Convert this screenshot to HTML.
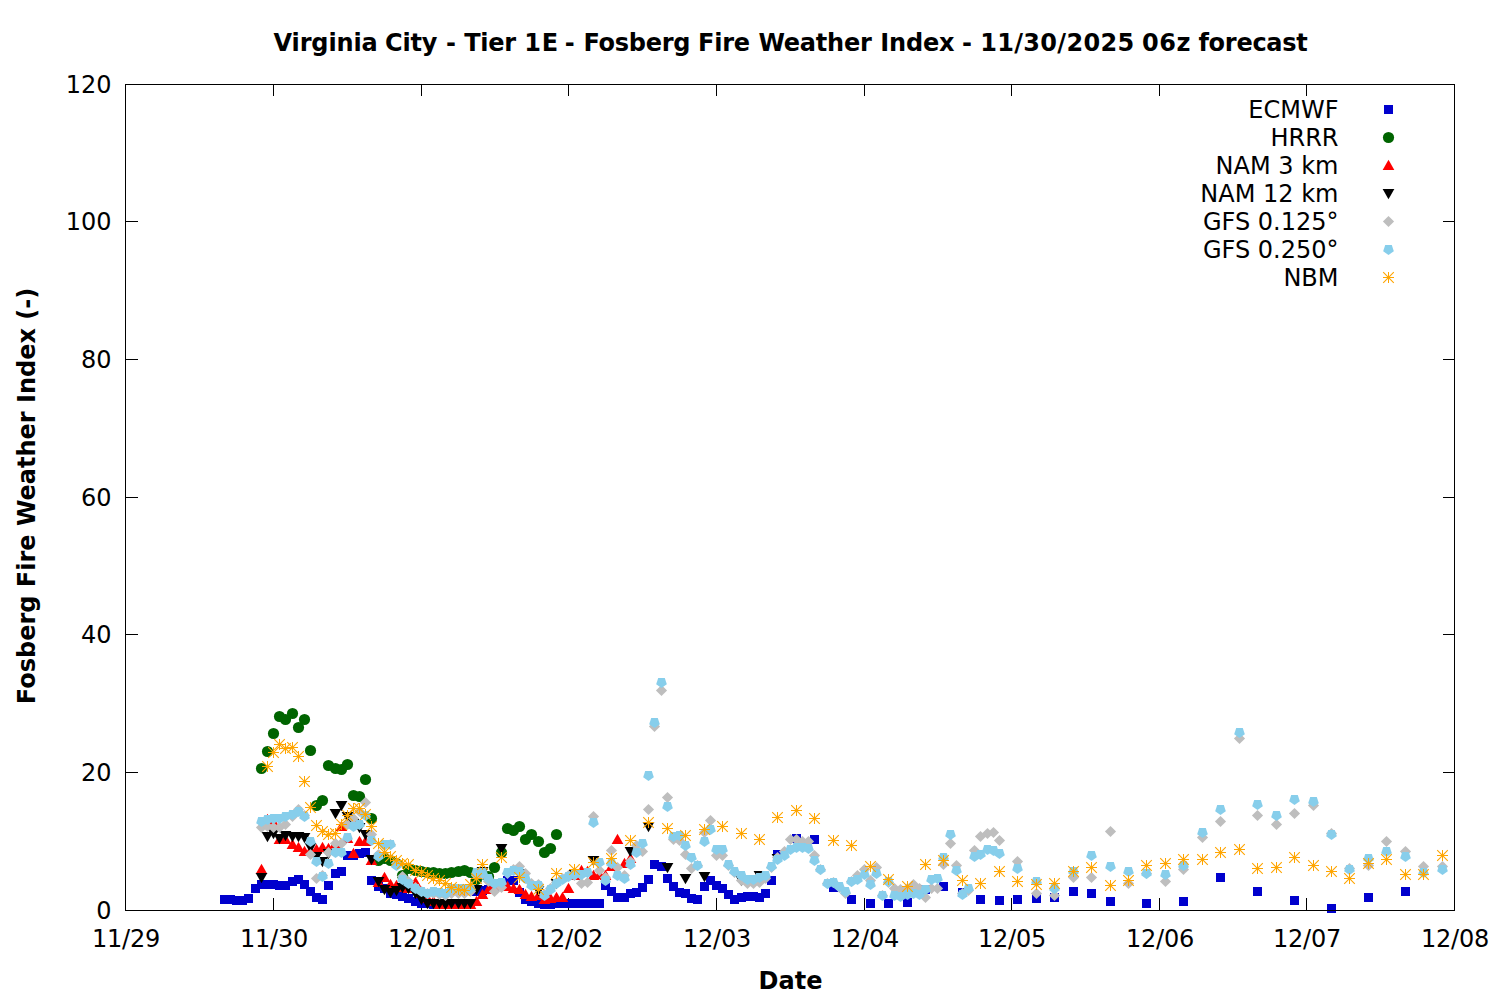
<!DOCTYPE html>
<html lang="en">
<head>
<meta charset="utf-8">
<title>Virginia City - Tier 1E - Fosberg Fire Weather Index</title>
<style>
html,body{margin:0;padding:0;background:#fff;}
body{width:1500px;height:1000px;overflow:hidden;}
svg{display:block;}
text{font-family:"DejaVu Sans","Liberation Sans",sans-serif;font-size:24px;fill:#000;}
.b{font-weight:bold;}
.ax{fill:#000;shape-rendering:crispEdges;}
</style>
</head>
<body>
<svg width="1500" height="1000" viewBox="0 0 1500 1000">
<defs>
<rect id="m-ec" x="-4.5" y="-4.5" width="9" height="9" stroke="none"/>
<circle id="m-hr" r="5.6" stroke="none"/>
<path id="m-n3" d="M0 -5.8L5.85 4.5H-5.85Z" stroke="none"/>
<path id="m-n12" d="M0 5.8L5.85 -4.5H-5.85Z" stroke="none"/>
<path id="m-g1" d="M0 -5.6L5.6 0L0 5.6L-5.6 0Z" stroke="none"/>
<path id="m-g2" d="M0 5.6L5.33 1.73L3.29 -4.53H-3.29L-5.33 1.73Z" stroke="none"/>
<g id="m-nb" fill="none"><path d="M-5.5 0H5.5M0 -5.5V5.5" stroke-width="1"/><path d="M-5.3 -5.3L5.3 5.3M-5.3 5.3L5.3 -5.3" stroke-width="1.1"/></g>
</defs>
<rect x="0" y="0" width="1500" height="1000" fill="#fff"/>
<text class="b" y="51"><tspan x="273.6" textLength="104.1" lengthAdjust="spacing">Virginia</tspan> <tspan x="385.1" textLength="52.2" lengthAdjust="spacing">City</tspan> <tspan x="445.9" textLength="10.3" lengthAdjust="spacing">-</tspan> <tspan x="464.2" textLength="51.8" lengthAdjust="spacing">Tier</tspan> <tspan x="524.2" textLength="33.9" lengthAdjust="spacing">1E</tspan> <tspan x="564.8" textLength="10.4" lengthAdjust="spacing">-</tspan> <tspan x="583.4" textLength="107.1" lengthAdjust="spacing">Fosberg</tspan> <tspan x="698.1" textLength="51.9" lengthAdjust="spacing">Fire</tspan> <tspan x="758.4" textLength="113.5" lengthAdjust="spacing">Weather</tspan> <tspan x="880.3" textLength="74.2" lengthAdjust="spacing">Index</tspan> <tspan x="961.9" textLength="10.4" lengthAdjust="spacing">-</tspan> <tspan x="980.2" textLength="154.0" lengthAdjust="spacing">11/30/2025</tspan> <tspan x="1142.0" textLength="48.5" lengthAdjust="spacing">06z</tspan> <tspan x="1198.4" textLength="109.4" lengthAdjust="spacing">forecast</tspan></text>
<text class="b" x="790.5" y="989" text-anchor="middle">Date</text>
<text class="b" transform="translate(35,496) rotate(-90)" text-anchor="middle">Fosberg Fire Weather Index (-)</text>
<text x="111.5" y="919" text-anchor="end">0</text>
<text x="111.5" y="781" text-anchor="end">20</text>
<text x="111.5" y="643" text-anchor="end">40</text>
<text x="111.5" y="506" text-anchor="end">60</text>
<text x="111.5" y="368" text-anchor="end">80</text>
<text x="111.5" y="230" text-anchor="end">100</text>
<text x="111.5" y="93" text-anchor="end">120</text>
<text x="126.0" y="947" text-anchor="middle" letter-spacing="-0.2">11/29</text>
<text x="274.0" y="947" text-anchor="middle" letter-spacing="-0.2">11/30</text>
<text x="422.0" y="947" text-anchor="middle" letter-spacing="-0.2">12/01</text>
<text x="569.0" y="947" text-anchor="middle" letter-spacing="-0.2">12/02</text>
<text x="717.0" y="947" text-anchor="middle" letter-spacing="-0.2">12/03</text>
<text x="865.0" y="947" text-anchor="middle" letter-spacing="-0.2">12/04</text>
<text x="1012.0" y="947" text-anchor="middle" letter-spacing="-0.2">12/05</text>
<text x="1160.0" y="947" text-anchor="middle" letter-spacing="-0.2">12/06</text>
<text x="1307.0" y="947" text-anchor="middle" letter-spacing="-0.2">12/07</text>
<text x="1455.0" y="947" text-anchor="middle" letter-spacing="-0.2">12/08</text>
<g class="ax"><rect x="126" y="772" width="12" height="1"/><rect x="1443" y="772" width="11" height="1"/><rect x="126" y="634" width="12" height="1"/><rect x="1443" y="634" width="11" height="1"/><rect x="126" y="497" width="12" height="1"/><rect x="1443" y="497" width="11" height="1"/><rect x="126" y="359" width="12" height="1"/><rect x="1443" y="359" width="11" height="1"/><rect x="126" y="221" width="12" height="1"/><rect x="1443" y="221" width="11" height="1"/><rect x="273" y="898" width="1" height="12"/><rect x="273" y="85" width="1" height="11"/><rect x="421" y="898" width="1" height="12"/><rect x="421" y="85" width="1" height="11"/><rect x="568" y="898" width="1" height="12"/><rect x="568" y="85" width="1" height="11"/><rect x="716" y="898" width="1" height="12"/><rect x="716" y="85" width="1" height="11"/><rect x="864" y="898" width="1" height="12"/><rect x="864" y="85" width="1" height="11"/><rect x="1011" y="898" width="1" height="12"/><rect x="1011" y="85" width="1" height="11"/><rect x="1159" y="898" width="1" height="12"/><rect x="1159" y="85" width="1" height="11"/><rect x="1306" y="898" width="1" height="12"/><rect x="1306" y="85" width="1" height="11"/></g>
<g fill="#0000cd" stroke="#0000cd">
<use href="#m-ec" x="224.5" y="899.5"/><use href="#m-ec" x="230.5" y="899.5"/><use href="#m-ec" x="236.5" y="900.5"/><use href="#m-ec" x="242.5" y="900.5"/><use href="#m-ec" x="248.5" y="898.5"/><use href="#m-ec" x="255.5" y="888.5"/><use href="#m-ec" x="261.5" y="884.5"/><use href="#m-ec" x="267.5" y="884.5"/><use href="#m-ec" x="273.5" y="884.5"/><use href="#m-ec" x="279.5" y="885.5"/><use href="#m-ec" x="285.5" y="885.5"/><use href="#m-ec" x="292.5" y="881.5"/><use href="#m-ec" x="298.5" y="879.5"/><use href="#m-ec" x="304.5" y="884.5"/><use href="#m-ec" x="310.5" y="891.5"/><use href="#m-ec" x="316.5" y="897.5"/><use href="#m-ec" x="322.5" y="899.5"/><use href="#m-ec" x="328.5" y="885.5"/><use href="#m-ec" x="335.5" y="873.5"/><use href="#m-ec" x="341.5" y="871.5"/><use href="#m-ec" x="347.5" y="855.5"/><use href="#m-ec" x="353.5" y="855.5"/><use href="#m-ec" x="359.5" y="853.5"/><use href="#m-ec" x="365.5" y="852.5"/><use href="#m-ec" x="371.5" y="880.5"/><use href="#m-ec" x="378.5" y="886.5"/><use href="#m-ec" x="384.5" y="888.5"/><use href="#m-ec" x="390.5" y="893.5"/><use href="#m-ec" x="396.5" y="894.5"/><use href="#m-ec" x="402.5" y="896.5"/><use href="#m-ec" x="408.5" y="898.5"/><use href="#m-ec" x="415.5" y="901.5"/><use href="#m-ec" x="421.5" y="903.5"/><use href="#m-ec" x="427.5" y="903.5"/><use href="#m-ec" x="433.5" y="904.5"/><use href="#m-ec" x="439.5" y="904.5"/><use href="#m-ec" x="445.5" y="904.5"/><use href="#m-ec" x="451.5" y="904.5"/><use href="#m-ec" x="458.5" y="904.5"/><use href="#m-ec" x="464.5" y="904.5"/><use href="#m-ec" x="470.5" y="904.5"/><use href="#m-ec" x="476.5" y="891.5"/><use href="#m-ec" x="482.5" y="890.5"/><use href="#m-ec" x="488.5" y="889.5"/><use href="#m-ec" x="494.5" y="886.5"/><use href="#m-ec" x="501.5" y="883.5"/><use href="#m-ec" x="507.5" y="880.5"/><use href="#m-ec" x="513.5" y="880.5"/><use href="#m-ec" x="519.5" y="892.5"/><use href="#m-ec" x="525.5" y="899.5"/><use href="#m-ec" x="531.5" y="901.5"/><use href="#m-ec" x="538.5" y="903.5"/><use href="#m-ec" x="544.5" y="904.5"/><use href="#m-ec" x="550.5" y="904.5"/><use href="#m-ec" x="556.5" y="903.5"/><use href="#m-ec" x="562.5" y="903.5"/><use href="#m-ec" x="568.5" y="903.5"/><use href="#m-ec" x="574.5" y="903.5"/><use href="#m-ec" x="581.5" y="903.5"/><use href="#m-ec" x="587.5" y="903.5"/><use href="#m-ec" x="593.5" y="903.5"/><use href="#m-ec" x="599.5" y="903.5"/><use href="#m-ec" x="605.5" y="885.5"/><use href="#m-ec" x="611.5" y="891.5"/><use href="#m-ec" x="617.5" y="897.5"/><use href="#m-ec" x="624.5" y="897.5"/><use href="#m-ec" x="630.5" y="893.5"/><use href="#m-ec" x="636.5" y="892.5"/><use href="#m-ec" x="642.5" y="887.5"/><use href="#m-ec" x="648.5" y="879.5"/><use href="#m-ec" x="654.5" y="864.5"/><use href="#m-ec" x="661.5" y="866.5"/><use href="#m-ec" x="667.5" y="878.5"/><use href="#m-ec" x="673.5" y="886.5"/><use href="#m-ec" x="679.5" y="892.5"/><use href="#m-ec" x="685.5" y="893.5"/><use href="#m-ec" x="691.5" y="898.5"/><use href="#m-ec" x="697.5" y="899.5"/><use href="#m-ec" x="704.5" y="886.5"/><use href="#m-ec" x="710.5" y="880.5"/><use href="#m-ec" x="716.5" y="885.5"/><use href="#m-ec" x="722.5" y="888.5"/><use href="#m-ec" x="728.5" y="894.5"/><use href="#m-ec" x="734.5" y="899.5"/><use href="#m-ec" x="741.5" y="897.5"/><use href="#m-ec" x="747.5" y="896.5"/><use href="#m-ec" x="753.5" y="896.5"/><use href="#m-ec" x="759.5" y="897.5"/><use href="#m-ec" x="765.5" y="893.5"/><use href="#m-ec" x="771.5" y="880.5"/><use href="#m-ec" x="777.5" y="854.5"/><use href="#m-ec" x="796.5" y="838.5"/><use href="#m-ec" x="814.5" y="839.5"/><use href="#m-ec" x="833.5" y="887.5"/><use href="#m-ec" x="851.5" y="899.5"/><use href="#m-ec" x="870.5" y="903.5"/><use href="#m-ec" x="888.5" y="903.5"/><use href="#m-ec" x="907.5" y="902.5"/><use href="#m-ec" x="925.5" y="889.5"/><use href="#m-ec" x="943.5" y="886.5"/><use href="#m-ec" x="962.5" y="892.5"/><use href="#m-ec" x="980.5" y="899.5"/><use href="#m-ec" x="999.5" y="900.5"/><use href="#m-ec" x="1017.5" y="899.5"/><use href="#m-ec" x="1036.5" y="898.5"/><use href="#m-ec" x="1054.5" y="897.5"/><use href="#m-ec" x="1073.5" y="891.5"/><use href="#m-ec" x="1091.5" y="893.5"/><use href="#m-ec" x="1110.5" y="901.5"/><use href="#m-ec" x="1146.5" y="903.5"/><use href="#m-ec" x="1183.5" y="901.5"/><use href="#m-ec" x="1220.5" y="877.5"/><use href="#m-ec" x="1257.5" y="891.5"/><use href="#m-ec" x="1294.5" y="900.5"/><use href="#m-ec" x="1331.5" y="908.5"/><use href="#m-ec" x="1368.5" y="897.5"/><use href="#m-ec" x="1405.5" y="891.5"/>
</g>
<g fill="#006400" stroke="#006400">
<use href="#m-hr" x="261.5" y="768.5"/><use href="#m-hr" x="267.5" y="751.5"/><use href="#m-hr" x="273.5" y="733.5"/><use href="#m-hr" x="279.5" y="716.5"/><use href="#m-hr" x="285.5" y="719.5"/><use href="#m-hr" x="292.5" y="713.5"/><use href="#m-hr" x="298.5" y="727.5"/><use href="#m-hr" x="304.5" y="719.5"/><use href="#m-hr" x="310.5" y="750.5"/><use href="#m-hr" x="316.5" y="805.5"/><use href="#m-hr" x="322.5" y="800.5"/><use href="#m-hr" x="328.5" y="765.5"/><use href="#m-hr" x="335.5" y="768.5"/><use href="#m-hr" x="341.5" y="769.5"/><use href="#m-hr" x="347.5" y="764.5"/><use href="#m-hr" x="353.5" y="795.5"/><use href="#m-hr" x="359.5" y="796.5"/><use href="#m-hr" x="365.5" y="779.5"/><use href="#m-hr" x="371.5" y="818.5"/><use href="#m-hr" x="378.5" y="860.5"/><use href="#m-hr" x="384.5" y="858.5"/><use href="#m-hr" x="390.5" y="860.5"/><use href="#m-hr" x="396.5" y="863.5"/><use href="#m-hr" x="402.5" y="875.5"/><use href="#m-hr" x="408.5" y="868.5"/><use href="#m-hr" x="415.5" y="870.5"/><use href="#m-hr" x="421.5" y="871.5"/><use href="#m-hr" x="427.5" y="872.5"/><use href="#m-hr" x="433.5" y="872.5"/><use href="#m-hr" x="439.5" y="873.5"/><use href="#m-hr" x="445.5" y="873.5"/><use href="#m-hr" x="451.5" y="872.5"/><use href="#m-hr" x="458.5" y="871.5"/><use href="#m-hr" x="464.5" y="870.5"/><use href="#m-hr" x="470.5" y="872.5"/><use href="#m-hr" x="476.5" y="879.5"/><use href="#m-hr" x="482.5" y="874.5"/><use href="#m-hr" x="488.5" y="876.5"/><use href="#m-hr" x="494.5" y="867.5"/><use href="#m-hr" x="501.5" y="852.5"/><use href="#m-hr" x="507.5" y="828.5"/><use href="#m-hr" x="513.5" y="830.5"/><use href="#m-hr" x="519.5" y="826.5"/><use href="#m-hr" x="525.5" y="839.5"/><use href="#m-hr" x="531.5" y="834.5"/><use href="#m-hr" x="538.5" y="841.5"/><use href="#m-hr" x="544.5" y="852.5"/><use href="#m-hr" x="550.5" y="848.5"/><use href="#m-hr" x="556.5" y="834.5"/>
</g>
<g fill="#ff0000" stroke="#ff0000">
<use href="#m-n3" x="261.5" y="869.5"/><use href="#m-n3" x="267.5" y="819.5"/><use href="#m-n3" x="273.5" y="822.5"/><use href="#m-n3" x="279.5" y="839.5"/><use href="#m-n3" x="285.5" y="839.5"/><use href="#m-n3" x="292.5" y="844.5"/><use href="#m-n3" x="298.5" y="847.5"/><use href="#m-n3" x="304.5" y="851.5"/><use href="#m-n3" x="310.5" y="850.5"/><use href="#m-n3" x="316.5" y="849.5"/><use href="#m-n3" x="322.5" y="847.5"/><use href="#m-n3" x="328.5" y="848.5"/><use href="#m-n3" x="335.5" y="843.5"/><use href="#m-n3" x="341.5" y="826.5"/><use href="#m-n3" x="347.5" y="838.5"/><use href="#m-n3" x="353.5" y="853.5"/><use href="#m-n3" x="359.5" y="841.5"/><use href="#m-n3" x="365.5" y="841.5"/><use href="#m-n3" x="371.5" y="860.5"/><use href="#m-n3" x="378.5" y="882.5"/><use href="#m-n3" x="384.5" y="877.5"/><use href="#m-n3" x="390.5" y="884.5"/><use href="#m-n3" x="396.5" y="885.5"/><use href="#m-n3" x="402.5" y="887.5"/><use href="#m-n3" x="408.5" y="888.5"/><use href="#m-n3" x="415.5" y="882.5"/><use href="#m-n3" x="421.5" y="893.5"/><use href="#m-n3" x="427.5" y="898.5"/><use href="#m-n3" x="433.5" y="901.5"/><use href="#m-n3" x="439.5" y="904.5"/><use href="#m-n3" x="445.5" y="904.5"/><use href="#m-n3" x="451.5" y="904.5"/><use href="#m-n3" x="458.5" y="904.5"/><use href="#m-n3" x="464.5" y="904.5"/><use href="#m-n3" x="470.5" y="904.5"/><use href="#m-n3" x="476.5" y="901.5"/><use href="#m-n3" x="482.5" y="894.5"/><use href="#m-n3" x="488.5" y="889.5"/><use href="#m-n3" x="494.5" y="884.5"/><use href="#m-n3" x="501.5" y="885.5"/><use href="#m-n3" x="507.5" y="886.5"/><use href="#m-n3" x="513.5" y="888.5"/><use href="#m-n3" x="519.5" y="889.5"/><use href="#m-n3" x="525.5" y="894.5"/><use href="#m-n3" x="531.5" y="896.5"/><use href="#m-n3" x="538.5" y="895.5"/><use href="#m-n3" x="544.5" y="899.5"/><use href="#m-n3" x="550.5" y="898.5"/><use href="#m-n3" x="556.5" y="897.5"/><use href="#m-n3" x="562.5" y="897.5"/><use href="#m-n3" x="568.5" y="888.5"/><use href="#m-n3" x="574.5" y="875.5"/><use href="#m-n3" x="581.5" y="870.5"/><use href="#m-n3" x="587.5" y="871.5"/><use href="#m-n3" x="593.5" y="875.5"/><use href="#m-n3" x="599.5" y="874.5"/><use href="#m-n3" x="605.5" y="875.5"/><use href="#m-n3" x="611.5" y="866.5"/><use href="#m-n3" x="617.5" y="839.5"/><use href="#m-n3" x="624.5" y="863.5"/><use href="#m-n3" x="630.5" y="858.5"/>
</g>
<g fill="#000000" stroke="#000000">
<use href="#m-n12" x="261.5" y="877.5"/><use href="#m-n12" x="267.5" y="836.5"/><use href="#m-n12" x="273.5" y="833.5"/><use href="#m-n12" x="279.5" y="838.5"/><use href="#m-n12" x="285.5" y="835.5"/><use href="#m-n12" x="292.5" y="836.5"/><use href="#m-n12" x="298.5" y="836.5"/><use href="#m-n12" x="304.5" y="837.5"/><use href="#m-n12" x="310.5" y="847.5"/><use href="#m-n12" x="316.5" y="856.5"/><use href="#m-n12" x="322.5" y="861.5"/><use href="#m-n12" x="328.5" y="853.5"/><use href="#m-n12" x="335.5" y="813.5"/><use href="#m-n12" x="341.5" y="805.5"/><use href="#m-n12" x="347.5" y="816.5"/><use href="#m-n12" x="353.5" y="823.5"/><use href="#m-n12" x="359.5" y="827.5"/><use href="#m-n12" x="365.5" y="834.5"/><use href="#m-n12" x="371.5" y="859.5"/><use href="#m-n12" x="378.5" y="881.5"/><use href="#m-n12" x="384.5" y="889.5"/><use href="#m-n12" x="390.5" y="892.5"/><use href="#m-n12" x="396.5" y="890.5"/><use href="#m-n12" x="402.5" y="887.5"/><use href="#m-n12" x="408.5" y="888.5"/><use href="#m-n12" x="415.5" y="893.5"/><use href="#m-n12" x="421.5" y="899.5"/><use href="#m-n12" x="427.5" y="903.5"/><use href="#m-n12" x="433.5" y="903.5"/><use href="#m-n12" x="439.5" y="903.5"/><use href="#m-n12" x="445.5" y="904.5"/><use href="#m-n12" x="451.5" y="903.5"/><use href="#m-n12" x="458.5" y="903.5"/><use href="#m-n12" x="464.5" y="903.5"/><use href="#m-n12" x="470.5" y="903.5"/><use href="#m-n12" x="476.5" y="889.5"/><use href="#m-n12" x="482.5" y="871.5"/><use href="#m-n12" x="501.5" y="848.5"/><use href="#m-n12" x="519.5" y="873.5"/><use href="#m-n12" x="538.5" y="890.5"/><use href="#m-n12" x="556.5" y="883.5"/><use href="#m-n12" x="574.5" y="874.5"/><use href="#m-n12" x="593.5" y="860.5"/><use href="#m-n12" x="630.5" y="851.5"/><use href="#m-n12" x="648.5" y="826.5"/><use href="#m-n12" x="667.5" y="867.5"/><use href="#m-n12" x="685.5" y="878.5"/><use href="#m-n12" x="704.5" y="876.5"/><use href="#m-n12" x="741.5" y="880.5"/><use href="#m-n12" x="759.5" y="875.5"/><use href="#m-n12" x="777.5" y="858.5"/>
</g>
<g fill="#bebebe" stroke="#bebebe">
<use href="#m-g1" x="261.5" y="827.5"/><use href="#m-g1" x="267.5" y="826.5"/><use href="#m-g1" x="273.5" y="827.5"/><use href="#m-g1" x="279.5" y="827.5"/><use href="#m-g1" x="285.5" y="824.5"/><use href="#m-g1" x="292.5" y="816.5"/><use href="#m-g1" x="298.5" y="809.5"/><use href="#m-g1" x="304.5" y="815.5"/><use href="#m-g1" x="310.5" y="854.5"/><use href="#m-g1" x="316.5" y="878.5"/><use href="#m-g1" x="322.5" y="875.5"/><use href="#m-g1" x="328.5" y="852.5"/><use href="#m-g1" x="335.5" y="843.5"/><use href="#m-g1" x="341.5" y="843.5"/><use href="#m-g1" x="347.5" y="824.5"/><use href="#m-g1" x="353.5" y="818.5"/><use href="#m-g1" x="359.5" y="811.5"/><use href="#m-g1" x="365.5" y="802.5"/><use href="#m-g1" x="371.5" y="834.5"/><use href="#m-g1" x="378.5" y="854.5"/><use href="#m-g1" x="384.5" y="845.5"/><use href="#m-g1" x="390.5" y="844.5"/><use href="#m-g1" x="396.5" y="863.5"/><use href="#m-g1" x="402.5" y="876.5"/><use href="#m-g1" x="408.5" y="881.5"/><use href="#m-g1" x="415.5" y="887.5"/><use href="#m-g1" x="421.5" y="891.5"/><use href="#m-g1" x="427.5" y="893.5"/><use href="#m-g1" x="433.5" y="893.5"/><use href="#m-g1" x="439.5" y="894.5"/><use href="#m-g1" x="445.5" y="895.5"/><use href="#m-g1" x="451.5" y="893.5"/><use href="#m-g1" x="458.5" y="893.5"/><use href="#m-g1" x="464.5" y="893.5"/><use href="#m-g1" x="470.5" y="891.5"/><use href="#m-g1" x="476.5" y="875.5"/><use href="#m-g1" x="482.5" y="874.5"/><use href="#m-g1" x="488.5" y="881.5"/><use href="#m-g1" x="494.5" y="891.5"/><use href="#m-g1" x="501.5" y="887.5"/><use href="#m-g1" x="507.5" y="873.5"/><use href="#m-g1" x="513.5" y="869.5"/><use href="#m-g1" x="519.5" y="866.5"/><use href="#m-g1" x="525.5" y="873.5"/><use href="#m-g1" x="531.5" y="883.5"/><use href="#m-g1" x="538.5" y="884.5"/><use href="#m-g1" x="544.5" y="894.5"/><use href="#m-g1" x="550.5" y="888.5"/><use href="#m-g1" x="556.5" y="882.5"/><use href="#m-g1" x="562.5" y="878.5"/><use href="#m-g1" x="568.5" y="875.5"/><use href="#m-g1" x="574.5" y="875.5"/><use href="#m-g1" x="581.5" y="883.5"/><use href="#m-g1" x="587.5" y="882.5"/><use href="#m-g1" x="593.5" y="816.5"/><use href="#m-g1" x="599.5" y="870.5"/><use href="#m-g1" x="605.5" y="877.5"/><use href="#m-g1" x="611.5" y="850.5"/><use href="#m-g1" x="617.5" y="867.5"/><use href="#m-g1" x="624.5" y="875.5"/><use href="#m-g1" x="630.5" y="861.5"/><use href="#m-g1" x="636.5" y="845.5"/><use href="#m-g1" x="642.5" y="851.5"/><use href="#m-g1" x="648.5" y="809.5"/><use href="#m-g1" x="654.5" y="726.5"/><use href="#m-g1" x="661.5" y="690.5"/><use href="#m-g1" x="667.5" y="797.5"/><use href="#m-g1" x="673.5" y="839.5"/><use href="#m-g1" x="679.5" y="840.5"/><use href="#m-g1" x="685.5" y="854.5"/><use href="#m-g1" x="691.5" y="868.5"/><use href="#m-g1" x="697.5" y="865.5"/><use href="#m-g1" x="704.5" y="832.5"/><use href="#m-g1" x="710.5" y="820.5"/><use href="#m-g1" x="716.5" y="855.5"/><use href="#m-g1" x="722.5" y="855.5"/><use href="#m-g1" x="728.5" y="865.5"/><use href="#m-g1" x="734.5" y="872.5"/><use href="#m-g1" x="741.5" y="880.5"/><use href="#m-g1" x="747.5" y="883.5"/><use href="#m-g1" x="753.5" y="883.5"/><use href="#m-g1" x="759.5" y="882.5"/><use href="#m-g1" x="765.5" y="878.5"/><use href="#m-g1" x="771.5" y="867.5"/><use href="#m-g1" x="777.5" y="857.5"/><use href="#m-g1" x="784.5" y="851.5"/><use href="#m-g1" x="790.5" y="839.5"/><use href="#m-g1" x="796.5" y="839.5"/><use href="#m-g1" x="802.5" y="841.5"/><use href="#m-g1" x="808.5" y="841.5"/><use href="#m-g1" x="814.5" y="855.5"/><use href="#m-g1" x="820.5" y="869.5"/><use href="#m-g1" x="827.5" y="883.5"/><use href="#m-g1" x="833.5" y="882.5"/><use href="#m-g1" x="839.5" y="887.5"/><use href="#m-g1" x="845.5" y="893.5"/><use href="#m-g1" x="851.5" y="881.5"/><use href="#m-g1" x="857.5" y="875.5"/><use href="#m-g1" x="864.5" y="869.5"/><use href="#m-g1" x="870.5" y="880.5"/><use href="#m-g1" x="876.5" y="867.5"/><use href="#m-g1" x="882.5" y="895.5"/><use href="#m-g1" x="888.5" y="882.5"/><use href="#m-g1" x="894.5" y="888.5"/><use href="#m-g1" x="900.5" y="889.5"/><use href="#m-g1" x="907.5" y="888.5"/><use href="#m-g1" x="913.5" y="884.5"/><use href="#m-g1" x="919.5" y="888.5"/><use href="#m-g1" x="925.5" y="897.5"/><use href="#m-g1" x="931.5" y="888.5"/><use href="#m-g1" x="937.5" y="888.5"/><use href="#m-g1" x="943.5" y="864.5"/><use href="#m-g1" x="950.5" y="843.5"/><use href="#m-g1" x="956.5" y="865.5"/><use href="#m-g1" x="962.5" y="893.5"/><use href="#m-g1" x="968.5" y="890.5"/><use href="#m-g1" x="974.5" y="850.5"/><use href="#m-g1" x="980.5" y="836.5"/><use href="#m-g1" x="987.5" y="833.5"/><use href="#m-g1" x="993.5" y="832.5"/><use href="#m-g1" x="999.5" y="840.5"/><use href="#m-g1" x="1017.5" y="861.5"/><use href="#m-g1" x="1036.5" y="893.5"/><use href="#m-g1" x="1054.5" y="895.5"/><use href="#m-g1" x="1073.5" y="877.5"/><use href="#m-g1" x="1091.5" y="877.5"/><use href="#m-g1" x="1110.5" y="831.5"/><use href="#m-g1" x="1128.5" y="883.5"/><use href="#m-g1" x="1146.5" y="873.5"/><use href="#m-g1" x="1165.5" y="881.5"/><use href="#m-g1" x="1183.5" y="869.5"/><use href="#m-g1" x="1202.5" y="837.5"/><use href="#m-g1" x="1220.5" y="821.5"/><use href="#m-g1" x="1239.5" y="738.5"/><use href="#m-g1" x="1257.5" y="815.5"/><use href="#m-g1" x="1276.5" y="824.5"/><use href="#m-g1" x="1294.5" y="813.5"/><use href="#m-g1" x="1313.5" y="805.5"/><use href="#m-g1" x="1331.5" y="833.5"/><use href="#m-g1" x="1349.5" y="868.5"/><use href="#m-g1" x="1368.5" y="865.5"/><use href="#m-g1" x="1386.5" y="841.5"/><use href="#m-g1" x="1405.5" y="851.5"/><use href="#m-g1" x="1423.5" y="866.5"/><use href="#m-g1" x="1442.5" y="866.5"/>
</g>
<g fill="#87ceeb" stroke="#87ceeb">
<use href="#m-g2" x="261.5" y="821.5"/><use href="#m-g2" x="267.5" y="819.5"/><use href="#m-g2" x="273.5" y="818.5"/><use href="#m-g2" x="279.5" y="818.5"/><use href="#m-g2" x="285.5" y="816.5"/><use href="#m-g2" x="292.5" y="814.5"/><use href="#m-g2" x="298.5" y="811.5"/><use href="#m-g2" x="304.5" y="816.5"/><use href="#m-g2" x="310.5" y="841.5"/><use href="#m-g2" x="316.5" y="861.5"/><use href="#m-g2" x="322.5" y="876.5"/><use href="#m-g2" x="328.5" y="863.5"/><use href="#m-g2" x="335.5" y="852.5"/><use href="#m-g2" x="341.5" y="852.5"/><use href="#m-g2" x="347.5" y="837.5"/><use href="#m-g2" x="353.5" y="826.5"/><use href="#m-g2" x="359.5" y="824.5"/><use href="#m-g2" x="365.5" y="815.5"/><use href="#m-g2" x="371.5" y="840.5"/><use href="#m-g2" x="378.5" y="856.5"/><use href="#m-g2" x="384.5" y="844.5"/><use href="#m-g2" x="390.5" y="844.5"/><use href="#m-g2" x="396.5" y="865.5"/><use href="#m-g2" x="402.5" y="879.5"/><use href="#m-g2" x="408.5" y="883.5"/><use href="#m-g2" x="415.5" y="888.5"/><use href="#m-g2" x="421.5" y="891.5"/><use href="#m-g2" x="427.5" y="893.5"/><use href="#m-g2" x="433.5" y="891.5"/><use href="#m-g2" x="439.5" y="892.5"/><use href="#m-g2" x="445.5" y="893.5"/><use href="#m-g2" x="451.5" y="888.5"/><use href="#m-g2" x="458.5" y="888.5"/><use href="#m-g2" x="464.5" y="888.5"/><use href="#m-g2" x="470.5" y="888.5"/><use href="#m-g2" x="476.5" y="872.5"/><use href="#m-g2" x="482.5" y="872.5"/><use href="#m-g2" x="488.5" y="878.5"/><use href="#m-g2" x="494.5" y="883.5"/><use href="#m-g2" x="501.5" y="882.5"/><use href="#m-g2" x="507.5" y="872.5"/><use href="#m-g2" x="513.5" y="870.5"/><use href="#m-g2" x="519.5" y="871.5"/><use href="#m-g2" x="525.5" y="878.5"/><use href="#m-g2" x="531.5" y="885.5"/><use href="#m-g2" x="538.5" y="885.5"/><use href="#m-g2" x="544.5" y="895.5"/><use href="#m-g2" x="550.5" y="889.5"/><use href="#m-g2" x="556.5" y="883.5"/><use href="#m-g2" x="562.5" y="879.5"/><use href="#m-g2" x="568.5" y="876.5"/><use href="#m-g2" x="574.5" y="874.5"/><use href="#m-g2" x="581.5" y="874.5"/><use href="#m-g2" x="587.5" y="872.5"/><use href="#m-g2" x="593.5" y="822.5"/><use href="#m-g2" x="599.5" y="862.5"/><use href="#m-g2" x="605.5" y="880.5"/><use href="#m-g2" x="611.5" y="863.5"/><use href="#m-g2" x="617.5" y="875.5"/><use href="#m-g2" x="624.5" y="878.5"/><use href="#m-g2" x="630.5" y="864.5"/><use href="#m-g2" x="636.5" y="852.5"/><use href="#m-g2" x="642.5" y="843.5"/><use href="#m-g2" x="648.5" y="775.5"/><use href="#m-g2" x="654.5" y="722.5"/><use href="#m-g2" x="661.5" y="682.5"/><use href="#m-g2" x="667.5" y="806.5"/><use href="#m-g2" x="673.5" y="836.5"/><use href="#m-g2" x="679.5" y="835.5"/><use href="#m-g2" x="685.5" y="845.5"/><use href="#m-g2" x="691.5" y="857.5"/><use href="#m-g2" x="697.5" y="865.5"/><use href="#m-g2" x="704.5" y="841.5"/><use href="#m-g2" x="710.5" y="829.5"/><use href="#m-g2" x="716.5" y="849.5"/><use href="#m-g2" x="722.5" y="849.5"/><use href="#m-g2" x="728.5" y="864.5"/><use href="#m-g2" x="734.5" y="871.5"/><use href="#m-g2" x="741.5" y="875.5"/><use href="#m-g2" x="747.5" y="879.5"/><use href="#m-g2" x="753.5" y="879.5"/><use href="#m-g2" x="759.5" y="877.5"/><use href="#m-g2" x="765.5" y="875.5"/><use href="#m-g2" x="771.5" y="866.5"/><use href="#m-g2" x="777.5" y="859.5"/><use href="#m-g2" x="784.5" y="855.5"/><use href="#m-g2" x="790.5" y="849.5"/><use href="#m-g2" x="796.5" y="847.5"/><use href="#m-g2" x="802.5" y="847.5"/><use href="#m-g2" x="808.5" y="848.5"/><use href="#m-g2" x="814.5" y="860.5"/><use href="#m-g2" x="820.5" y="869.5"/><use href="#m-g2" x="827.5" y="883.5"/><use href="#m-g2" x="833.5" y="882.5"/><use href="#m-g2" x="839.5" y="886.5"/><use href="#m-g2" x="845.5" y="891.5"/><use href="#m-g2" x="851.5" y="881.5"/><use href="#m-g2" x="857.5" y="879.5"/><use href="#m-g2" x="864.5" y="874.5"/><use href="#m-g2" x="870.5" y="884.5"/><use href="#m-g2" x="876.5" y="873.5"/><use href="#m-g2" x="882.5" y="895.5"/><use href="#m-g2" x="888.5" y="881.5"/><use href="#m-g2" x="894.5" y="895.5"/><use href="#m-g2" x="900.5" y="896.5"/><use href="#m-g2" x="907.5" y="894.5"/><use href="#m-g2" x="913.5" y="893.5"/><use href="#m-g2" x="919.5" y="894.5"/><use href="#m-g2" x="925.5" y="889.5"/><use href="#m-g2" x="931.5" y="879.5"/><use href="#m-g2" x="937.5" y="878.5"/><use href="#m-g2" x="943.5" y="857.5"/><use href="#m-g2" x="950.5" y="834.5"/><use href="#m-g2" x="956.5" y="870.5"/><use href="#m-g2" x="962.5" y="894.5"/><use href="#m-g2" x="968.5" y="888.5"/><use href="#m-g2" x="974.5" y="856.5"/><use href="#m-g2" x="980.5" y="854.5"/><use href="#m-g2" x="987.5" y="849.5"/><use href="#m-g2" x="993.5" y="850.5"/><use href="#m-g2" x="999.5" y="853.5"/><use href="#m-g2" x="1017.5" y="868.5"/><use href="#m-g2" x="1036.5" y="881.5"/><use href="#m-g2" x="1054.5" y="888.5"/><use href="#m-g2" x="1073.5" y="871.5"/><use href="#m-g2" x="1091.5" y="855.5"/><use href="#m-g2" x="1110.5" y="866.5"/><use href="#m-g2" x="1128.5" y="871.5"/><use href="#m-g2" x="1146.5" y="873.5"/><use href="#m-g2" x="1165.5" y="874.5"/><use href="#m-g2" x="1183.5" y="865.5"/><use href="#m-g2" x="1202.5" y="832.5"/><use href="#m-g2" x="1220.5" y="809.5"/><use href="#m-g2" x="1239.5" y="732.5"/><use href="#m-g2" x="1257.5" y="804.5"/><use href="#m-g2" x="1276.5" y="815.5"/><use href="#m-g2" x="1294.5" y="799.5"/><use href="#m-g2" x="1313.5" y="801.5"/><use href="#m-g2" x="1331.5" y="834.5"/><use href="#m-g2" x="1349.5" y="869.5"/><use href="#m-g2" x="1368.5" y="858.5"/><use href="#m-g2" x="1386.5" y="851.5"/><use href="#m-g2" x="1405.5" y="856.5"/><use href="#m-g2" x="1423.5" y="872.5"/><use href="#m-g2" x="1442.5" y="869.5"/>
</g>
<g fill="#ffa500" stroke="#ffa500">
<use href="#m-nb" x="267.5" y="766.5"/><use href="#m-nb" x="273.5" y="752.5"/><use href="#m-nb" x="279.5" y="744.5"/><use href="#m-nb" x="285.5" y="748.5"/><use href="#m-nb" x="292.5" y="747.5"/><use href="#m-nb" x="298.5" y="756.5"/><use href="#m-nb" x="304.5" y="781.5"/><use href="#m-nb" x="310.5" y="807.5"/><use href="#m-nb" x="316.5" y="825.5"/><use href="#m-nb" x="322.5" y="831.5"/><use href="#m-nb" x="328.5" y="834.5"/><use href="#m-nb" x="335.5" y="833.5"/><use href="#m-nb" x="341.5" y="824.5"/><use href="#m-nb" x="347.5" y="815.5"/><use href="#m-nb" x="353.5" y="808.5"/><use href="#m-nb" x="359.5" y="808.5"/><use href="#m-nb" x="365.5" y="814.5"/><use href="#m-nb" x="371.5" y="826.5"/><use href="#m-nb" x="378.5" y="843.5"/><use href="#m-nb" x="384.5" y="852.5"/><use href="#m-nb" x="390.5" y="856.5"/><use href="#m-nb" x="396.5" y="860.5"/><use href="#m-nb" x="402.5" y="863.5"/><use href="#m-nb" x="408.5" y="864.5"/><use href="#m-nb" x="415.5" y="870.5"/><use href="#m-nb" x="421.5" y="872.5"/><use href="#m-nb" x="427.5" y="875.5"/><use href="#m-nb" x="433.5" y="878.5"/><use href="#m-nb" x="439.5" y="880.5"/><use href="#m-nb" x="445.5" y="883.5"/><use href="#m-nb" x="451.5" y="887.5"/><use href="#m-nb" x="458.5" y="889.5"/><use href="#m-nb" x="464.5" y="890.5"/><use href="#m-nb" x="470.5" y="884.5"/><use href="#m-nb" x="476.5" y="878.5"/><use href="#m-nb" x="482.5" y="864.5"/><use href="#m-nb" x="501.5" y="857.5"/><use href="#m-nb" x="519.5" y="877.5"/><use href="#m-nb" x="538.5" y="889.5"/><use href="#m-nb" x="556.5" y="873.5"/><use href="#m-nb" x="574.5" y="869.5"/><use href="#m-nb" x="593.5" y="862.5"/><use href="#m-nb" x="611.5" y="858.5"/><use href="#m-nb" x="630.5" y="840.5"/><use href="#m-nb" x="648.5" y="822.5"/><use href="#m-nb" x="667.5" y="828.5"/><use href="#m-nb" x="685.5" y="835.5"/><use href="#m-nb" x="704.5" y="829.5"/><use href="#m-nb" x="722.5" y="826.5"/><use href="#m-nb" x="741.5" y="833.5"/><use href="#m-nb" x="759.5" y="839.5"/><use href="#m-nb" x="777.5" y="817.5"/><use href="#m-nb" x="796.5" y="810.5"/><use href="#m-nb" x="814.5" y="818.5"/><use href="#m-nb" x="833.5" y="840.5"/><use href="#m-nb" x="851.5" y="845.5"/><use href="#m-nb" x="870.5" y="866.5"/><use href="#m-nb" x="888.5" y="879.5"/><use href="#m-nb" x="907.5" y="886.5"/><use href="#m-nb" x="925.5" y="864.5"/><use href="#m-nb" x="943.5" y="860.5"/><use href="#m-nb" x="962.5" y="880.5"/><use href="#m-nb" x="980.5" y="883.5"/><use href="#m-nb" x="999.5" y="871.5"/><use href="#m-nb" x="1017.5" y="881.5"/><use href="#m-nb" x="1036.5" y="884.5"/><use href="#m-nb" x="1054.5" y="883.5"/><use href="#m-nb" x="1073.5" y="871.5"/><use href="#m-nb" x="1091.5" y="867.5"/><use href="#m-nb" x="1110.5" y="885.5"/><use href="#m-nb" x="1128.5" y="880.5"/><use href="#m-nb" x="1146.5" y="865.5"/><use href="#m-nb" x="1165.5" y="863.5"/><use href="#m-nb" x="1183.5" y="859.5"/><use href="#m-nb" x="1202.5" y="859.5"/><use href="#m-nb" x="1220.5" y="852.5"/><use href="#m-nb" x="1239.5" y="849.5"/><use href="#m-nb" x="1257.5" y="868.5"/><use href="#m-nb" x="1276.5" y="867.5"/><use href="#m-nb" x="1294.5" y="857.5"/><use href="#m-nb" x="1313.5" y="865.5"/><use href="#m-nb" x="1331.5" y="871.5"/><use href="#m-nb" x="1349.5" y="878.5"/><use href="#m-nb" x="1368.5" y="863.5"/><use href="#m-nb" x="1386.5" y="859.5"/><use href="#m-nb" x="1405.5" y="874.5"/><use href="#m-nb" x="1423.5" y="874.5"/><use href="#m-nb" x="1442.5" y="855.5"/>
</g>
<text x="1338.5" y="118.0" text-anchor="end">ECMWF</text>
<g fill="#0000cd" stroke="#0000cd"><use href="#m-ec" x="1388.5" y="109.5"/></g>
<text x="1338.5" y="146.0" text-anchor="end">HRRR</text>
<g fill="#006400" stroke="#006400"><use href="#m-hr" x="1388.5" y="137.5"/></g>
<text x="1338.5" y="174.0" text-anchor="end">NAM 3 km</text>
<g fill="#ff0000" stroke="#ff0000"><use href="#m-n3" x="1388.5" y="165.5"/></g>
<text x="1338.5" y="202.0" text-anchor="end">NAM 12 km</text>
<g fill="#000000" stroke="#000000"><use href="#m-n12" x="1388.5" y="193.5"/></g>
<text x="1338.5" y="230.0" text-anchor="end">GFS 0.125°</text>
<g fill="#bebebe" stroke="#bebebe"><use href="#m-g1" x="1388.5" y="221.5"/></g>
<text x="1338.5" y="258.0" text-anchor="end">GFS 0.250°</text>
<g fill="#87ceeb" stroke="#87ceeb"><use href="#m-g2" x="1388.5" y="249.5"/></g>
<text x="1338.5" y="286.0" text-anchor="end">NBM</text>
<g fill="#ffa500" stroke="#ffa500"><use href="#m-nb" x="1388.5" y="277.5"/></g>
<g class="ax"><rect x="125" y="84" width="1330" height="1"/><rect x="125" y="910" width="1330" height="1"/><rect x="125" y="84" width="1" height="827"/><rect x="1454" y="84" width="1" height="827"/></g>
</svg>
</body>
</html>
